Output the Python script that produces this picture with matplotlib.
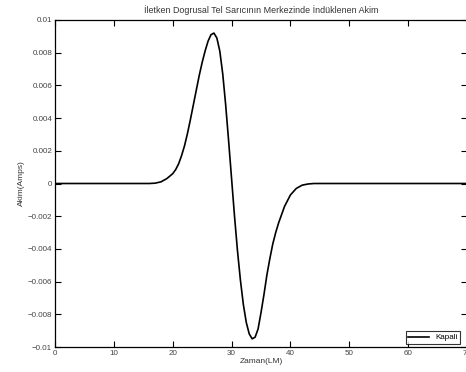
import numpy as np
import matplotlib
matplotlib.use("Agg")
import matplotlib.pyplot as plt

plt.rcParams['font.family'] = ['Liberation Sans', 'DejaVu Sans']

# Zaman ekseni ve indüklenen akim (okunan degerler)
zaman = [0, 15, 16, 17, 18, 19, 20, 20.5, 21, 21.5, 22, 22.5, 23, 23.5, 24,
         24.5, 25, 25.5, 26, 26.5, 27, 27.5, 28, 28.5, 29, 29.5, 30, 30.5,
         31, 31.5, 32, 32.5, 33, 33.5, 34, 34.5, 35, 35.5, 36, 36.5, 37,
         37.5, 38, 39, 40, 41, 42, 43, 44, 70]
akim_mA = [0, 0, 0.0, 0.02, 0.1, 0.3, 0.6, 0.85, 1.2, 1.7, 2.3, 3.05, 3.9,
           4.8, 5.7, 6.6, 7.4, 8.1, 8.7, 9.1, 9.2, 8.9, 8.1, 6.7, 4.8, 2.6,
           0.3, -2.0, -4.1, -5.9, -7.4, -8.5, -9.2, -9.5, -9.4, -8.9, -7.9,
           -6.8, -5.6, -4.6, -3.7, -3.0, -2.4, -1.4, -0.7, -0.3, -0.1, -0.03,
           0, 0]
akim = np.array(akim_mA) * 1e-3

xticks = [0, 10, 20, 30, 40, 50, 60, 70]
yticks = [-0.01, -0.008, -0.006, -0.004, -0.002, 0, 0.002, 0.004, 0.006, 0.008, 0.01]
yticklabels = ['\u22120.01', '\u22120.008', '\u22120.006', '\u22120.004', '\u22120.002', '0',
               '0.002', '0.004', '0.006', '0.008', '0.01']

fig = plt.figure(figsize=(4.66, 3.72), dpi=100)
ax = fig.add_axes([55 / 466, 25 / 372, 412 / 466, 327 / 372])

ax.plot(zaman, akim, color='black', linewidth=1.2, label='Kapali')

ax.set_xlim(0, 70)
ax.set_ylim(-0.01, 0.01)
ax.set_xticks(xticks)
ax.set_xticklabels([str(t) for t in xticks])
ax.set_yticks(yticks)
ax.set_yticklabels(yticklabels)
ax.tick_params(direction='in', length=4, width=0.8, labelsize=5.8,
               labelcolor='#444444', top=True, right=True, pad=2)
for s in ax.spines.values():
    s.set_linewidth(0.9)

ax.set_title('İletken Dogrusal Tel Sarıcının Merkezinde İndüklenen Akim',
             fontsize=6.4, color='#333333', pad=5)
ax.set_xlabel('Zaman(LM)', fontsize=6, color='#333333', labelpad=1)
ax.set_ylabel('Akim(Amps)', fontsize=6, color='#333333', labelpad=2)

leg = ax.legend(loc='lower right', fontsize=5.8, frameon=True, fancybox=False,
                handlelength=2.5, borderpad=0.3, borderaxespad=0.4,
                bbox_to_anchor=(0.99, 0.0))
leg.get_frame().set_edgecolor('black')
leg.get_frame().set_linewidth(0.8)

fig.savefig('out.png', dpi=100)
